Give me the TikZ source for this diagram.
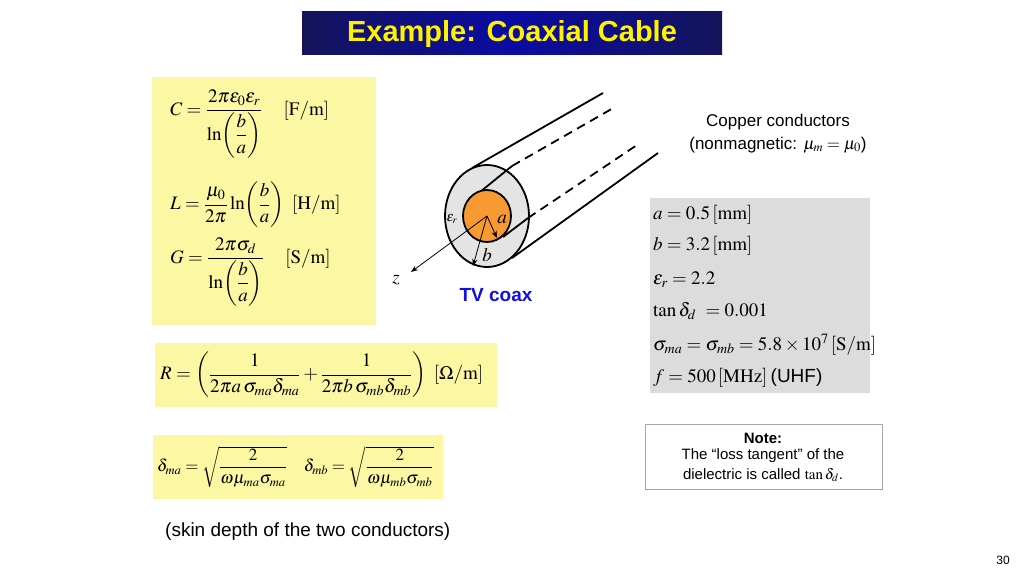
\documentclass[tikz,border=0pt]{standalone}
\usepackage{mathptmx}
\usepackage{amsmath}
\usepackage{fontspec}
\setmainfont{Liberation Sans}
\usetikzlibrary{arrows.meta}
\definecolor{ybox}{HTML}{FBF7A3}
\definecolor{gbox}{HTML}{DCDCDC}
\definecolor{navy}{HTML}{14145A}
\definecolor{tvblue}{HTML}{1010E0}
\definecolor{copper}{HTML}{F79A32}
\definecolor{diel}{HTML}{E4E4E4}
\begin{document}
\begin{tikzpicture}[x=1pt,y=-1pt,
  eq/.style={font=\fontsize{19}{22}\selectfont, inner sep=0pt},
  txt/.style={font=\fontsize{15}{18}\selectfont, inner sep=0pt, align=center},
  wire/.style={line width=1.8pt}]
\useasboundingbox (0,0) rectangle (1024,576);
\fill[white] (0,0) rectangle (1024,576);
% title
\shade[left color=navy, right color=navy, middle color=blue!45!navy] (302,11) rectangle (722,54);
\node (title) at (512,34) {\fontsize{29}{32}\selectfont\bfseries\color{yellow} Example: Coaxial Cable};
% yellow boxes
\fill[ybox] (152,77) rectangle (376,325);
\fill[ybox] (155,343) rectangle (497,407);
\fill[ybox] (153,435) rectangle (443,499);
\node[eq,anchor=west] (C) at (170,124) {$C=\dfrac{2\pi\varepsilon_0\varepsilon_r}{\ln\!\left(\dfrac{b}{a}\right)}\quad\left[\mathrm{F/m}\right]$};
\node[eq,anchor=west] (L) at (170,205) {$L=\dfrac{\mu_0}{2\pi}\ln\!\left(\dfrac{b}{a}\right)\ \left[\mathrm{H/m}\right]$};
\node[eq,anchor=west] (G) at (170,272) {$G=\dfrac{2\pi\sigma_d}{\ln\!\left(\dfrac{b}{a}\right)}\quad\left[\mathrm{S/m}\right]$};
\node[eq,anchor=west] (R) at (160,375) {$R=\left(\dfrac{1}{2\pi a\,\sigma_{ma}\delta_{ma}}+\dfrac{1}{2\pi b\,\sigma_{mb}\delta_{mb}}\right)\ \left[\Omega/\mathrm{m}\right]$};
\node[eq,font=\fontsize{17}{20}\selectfont,anchor=west] (D) at (157,467) {$\delta_{ma}=\sqrt{\dfrac{2}{\omega\mu_{ma}\sigma_{ma}}}\quad\delta_{mb}=\sqrt{\dfrac{2}{\omega\mu_{mb}\sigma_{mb}}}$};
\node[txt,font=\fontsize{19}{22}\selectfont,anchor=west] (skin) at (165,532) {(skin depth of the two conductors)};
% gray box
\fill[gbox] (650,198) rectangle (870,393);
\node[eq,anchor=west] (pa) at (653,215) {$a=0.5\left[\mathrm{mm}\right]$};
\node[eq,anchor=west] (pb) at (653,246) {$b=3.2\left[\mathrm{mm}\right]$};
\node[eq,anchor=west] (pe) at (653,280) {$\varepsilon_r=2.2$};
\node[eq,anchor=west] (pt) at (653,311) {$\tan\delta_d\ =0.001$};
\node[eq,anchor=west] (ps) at (653,345) {$\sigma_{ma}=\sigma_{mb}=5.8\times10^7\left[\mathrm{S/m}\right]$};
\node[eq,anchor=west] (pf) at (653,378) {$f=500\left[\mathrm{MHz}\right]$\,(UHF)};
% copper note
\node[txt,font=\fontsize{17}{20}\selectfont] (cu1) at (778,122) {Copper conductors};
\node[txt,font=\fontsize{17}{20}\selectfont] (cu2) at (778,145) {(nonmagnetic: $\mu_m=\mu_0$)};
% note box
\draw[gray!70, line width=0.6pt] (645,424) rectangle (882,489);
\node[txt,font=\fontsize{15}{18}\selectfont\bfseries] (n1) at (763,438) {Note:};
\node[txt] (n2) at (763,456) {The “loss tangent” of the};
\node[txt] (n3) at (763,475) {dielectric is called $\tan\delta_d$.};
\node[txt,font=\fontsize{12}{14}\selectfont] (pg) at (1003,560) {30};
% coax
\coordinate (O) at (487,216);
\draw[wire] (472,168) -- (603,93);
\draw[wire] (512,258) -- (658,153);
\fill[diel] (O) ellipse [x radius=42, y radius=51];
\draw[wire] (O) ellipse [x radius=42, y radius=51];
\draw[wire] (480,192) -- (512,166);
\draw[wire, dash pattern=on 9pt off 6pt] (512,166) -- (615,107);
\draw[wire] (503,237) -- (528,218);
\draw[wire, dash pattern=on 9pt off 6pt] (528,218) -- (637,145);
\draw[wire, fill=copper] (O) ellipse [x radius=24, y radius=26];
\coordinate (ea) at (497,238);
\coordinate (eb) at (473,266);
\coordinate (ez) at (411,272);
\draw[-{Stealth[length=7pt]}, line width=0.8pt] (O) -- (ea);
\draw[-{Stealth[length=7pt]}, line width=0.8pt] (O) -- (eb);
\draw[-{Stealth[length=7pt]}, line width=0.8pt] (O) -- (ez);
\node[eq] (la) at (502,219) {$a$};
\node[eq] (lb) at (487,255) {$b$};
\node[eq,font=\fontsize{14}{16}\selectfont] (le) at (452,219) {$\varepsilon_r$};
\node[eq] (lz) at (396,280) {$z$};
\node[txt,font=\fontsize{19}{22}\selectfont\bfseries\color{tvblue}] (tv) at (496,295) {TV coax};
\end{tikzpicture}
\end{document}
